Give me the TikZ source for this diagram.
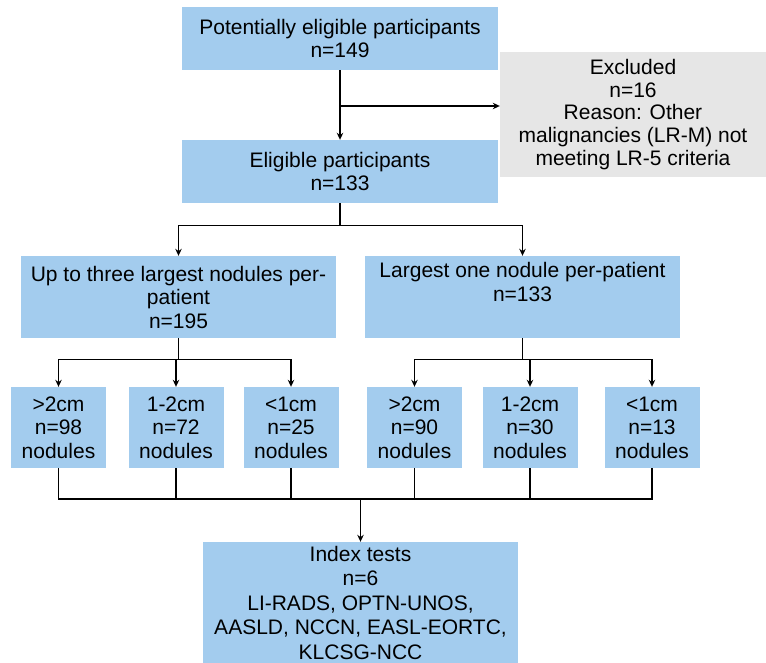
\documentclass[tikz,border=0pt]{standalone}
\usepackage{fontspec}
\setmainfont{Liberation Sans}
\usetikzlibrary{arrows.meta}
\definecolor{flowblue}{RGB}{163,204,238}
\definecolor{flowgray}{RGB}{230,230,230}

\begin{document}
\begin{tikzpicture}
  [x=1pt,y=-1pt,
   box/.style={rectangle,fill=flowblue,inner sep=0pt,align=center,
               font=\fontsize{21}{23.5}\selectfont},
   wide/.style={box,minimum width=316pt,minimum height=63pt},
   part/.style={box,minimum width=315pt,minimum height=82pt},
   sizebox/.style={box,minimum width=95pt,minimum height=81pt},
   excluded/.style={box,fill=flowgray,minimum width=266pt,
                    minimum height=125pt,font=\fontsize{21}{22.8}\selectfont},
   flow/.style={line width=1.3pt},
   arrow/.style={flow,-{Stealth[length=7pt,width=6.5pt]}}]
   \useasboundingbox (0,0) rectangle (766,663);
   \node[wide]     (potential) at (340,38.5)   {Potentially eligible participants\\n=149};
   \node[excluded] (excluded)  at (633,114.5)  {Excluded\\n=16\\Reason: Other\\
                                                malignancies (LR-M) not\\meeting LR-5 criteria};
   \node[wide]     (eligible)  at (340,171.5)  {Eligible participants\\n=133};
   \node[part]     (three)     at (178.5,297)  {Up to three largest nodules per-\\patient\\n=195};
   \node[part]     (one)       at (522.5,297)  {Largest one nodule per-patient\\n=133\\\strut};
   % size classes
   \node[sizebox]  (l1) at (58.5,427.5)  {>2cm\\n=98\\nodules};
   \node[sizebox]  (l2) at (176,427.5)   {1-2cm\\n=72\\nodules};
   \node[sizebox]  (l3) at (291,427.5)   {<1cm\\n=25\\nodules};
   \node[sizebox]  (r1) at (414.5,427.5) {>2cm\\n=90\\nodules};
   \node[sizebox]  (r2) at (530,427.5)   {1-2cm\\n=30\\nodules};
   \node[sizebox]  (r3) at (652,427.5)   {<1cm\\n=13\\nodules};
   \node[box,minimum width=315pt,minimum height=121pt,
         font=\fontsize{21}{24.5}\selectfont] (index) at (360.5,602.5)
        {Index tests\\n=6\\LI-RADS, OPTN-UNOS,\\AASLD, NCCN, EASL-EORTC,\\KLCSG-NCC};

   \coordinate (split) at (340,106);
   \coordinate (join)  at (360.5,499);
   \draw[arrow] (potential) -- (eligible);
   \draw[arrow] (split) -- (split -| excluded.west);
   \draw[arrow] (eligible.south) -- ++(0,22) -| (three.north);
   \draw[arrow] (eligible.south) -- ++(0,22) -| (one.north);
   \foreach \s in {l1,l2,l3}
     \draw[arrow] (three.south) -- ++(0,21) -| (\s.north);
   \foreach \s in {r1,r2,r3}
     \draw[arrow] (one.south) -- ++(0,21) -| (\s.north);
   \draw[flow] (l1.south) |- (r3.south |- join) -- (r3.south);
   \foreach \s in {l2,l3,r1,r2}
     \draw[flow] (\s.south) -- (\s.south |- join);
   \draw[arrow] (join) -- (index.north);
\end{tikzpicture}
\end{document}
